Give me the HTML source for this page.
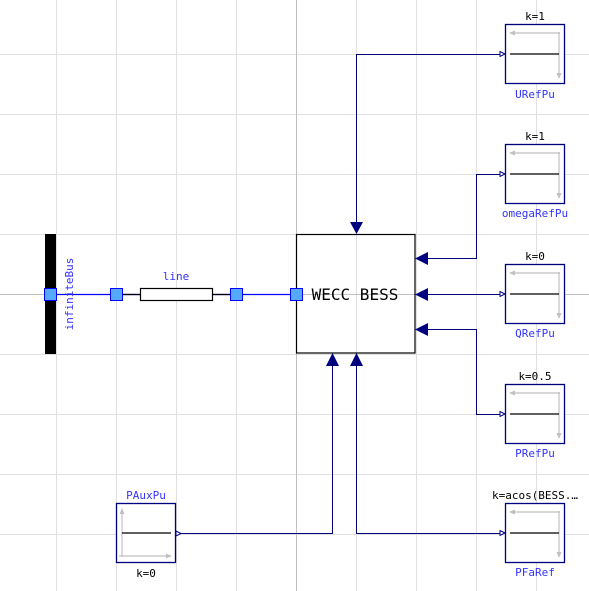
<!DOCTYPE html>
<html><head><style>body{margin:0;background:#fff}svg{display:block}</style></head><body>
<svg width="589" height="591" viewBox="0 0 589 591" xmlns="http://www.w3.org/2000/svg" font-family="'DejaVu Sans Mono','Liberation Mono',monospace">
<defs>
<g id="rb">
 <rect x="505.5" y="0.5" width="59" height="59" fill="#fff" stroke="#00007f" stroke-width="1.3"/>
 <line x1="512" y1="9" x2="560" y2="9" stroke="#c0c0c0" stroke-width="1.2"/>
 <polygon points="509,9 515,6.5 515,11.5" fill="#c0c0c0"/>
 <line x1="559" y1="8" x2="559" y2="51" stroke="#c0c0c0" stroke-width="1.2"/>
 <polygon points="559,55 556.5,49 561.5,49" fill="#c0c0c0"/>
 <line x1="510" y1="30" x2="559" y2="30" stroke="#000" stroke-width="1.2"/>
 <polygon points="505,30 500,27.5 500,32.5" fill="#fff" stroke="#00007f" stroke-width="1"/>
</g>
</defs>
<g stroke="#e0e0e0" stroke-width="1">
 <line x1="56.5" y1="0" x2="56.5" y2="591"/><line x1="116.5" y1="0" x2="116.5" y2="591"/>
 <line x1="176.5" y1="0" x2="176.5" y2="591"/><line x1="236.5" y1="0" x2="236.5" y2="591"/>
 <line x1="356.5" y1="0" x2="356.5" y2="591"/><line x1="416.5" y1="0" x2="416.5" y2="591"/>
 <line x1="476.5" y1="0" x2="476.5" y2="591"/><line x1="536.5" y1="0" x2="536.5" y2="591"/>
 <line x1="0" y1="54.5" x2="589" y2="54.5"/><line x1="0" y1="114.5" x2="589" y2="114.5"/>
 <line x1="0" y1="174.5" x2="589" y2="174.5"/><line x1="0" y1="234.5" x2="589" y2="234.5"/>
 <line x1="0" y1="354.5" x2="589" y2="354.5"/><line x1="0" y1="414.5" x2="589" y2="414.5"/>
 <line x1="0" y1="474.5" x2="589" y2="474.5"/><line x1="0" y1="534.5" x2="589" y2="534.5"/>
</g>
<g stroke="#c0c0c0"><line x1="296.5" y1="0" x2="296.5" y2="591"/><line x1="0" y1="294.5" x2="589" y2="294.5"/></g>

<g fill="none" stroke="#00007f" stroke-width="1">
 <polyline points="500,54.5 356.5,54.5 356.5,224"/>
 <polyline points="500,174.5 476.5,174.5 476.5,258.5 427,258.5"/>
 <polyline points="500,294.5 427,294.5"/>
 <polyline points="500,414.5 476.5,414.5 476.5,329.5 427,329.5"/>
 <polyline points="181,533.5 332.5,533.5 332.5,364"/>
 <polyline points="500,533.5 356.5,533.5 356.5,364"/>
</g>
<g fill="#00007f">
 <polygon points="356.5,234 350,222 363,222"/>
 <polygon points="415,258.5 428,252 428,265"/>
 <polygon points="415,294.5 428,288 428,301"/>
 <polygon points="415,329.5 428,323 428,336"/>
 <polygon points="332.5,353 326,366 339,366"/>
 <polygon points="356.5,353 350,366 363,366"/>
</g>

<rect x="296.5" y="234.5" width="118.5" height="118.5" fill="none" stroke="#000" stroke-width="1.2"/>
<text x="355" y="300" font-size="16" text-anchor="middle" fill="#000">WECC BESS</text>

<line x1="50" y1="294.5" x2="296" y2="294.5" stroke="#0000ff" stroke-width="1.2"/>
<line x1="116" y1="294.5" x2="236" y2="294.5" stroke="#000" stroke-width="1.2"/>
<rect x="45" y="234" width="11" height="120" fill="#000"/>
<rect x="140.5" y="288.5" width="72" height="12" fill="#fff" stroke="#000" stroke-width="1.2"/>
<text x="176" y="280" font-size="11" text-anchor="middle" fill="#3333ff">line</text>
<text transform="translate(73,294) rotate(-90)" font-size="11" text-anchor="middle" fill="#3333ff">infiniteBus</text>
<g fill="#55aaff" stroke="#0000ff" stroke-width="1">
 <rect x="44.5" y="288.5" width="12" height="12"/><rect x="110.5" y="288.5" width="12" height="12"/>
 <rect x="230.5" y="288.5" width="12" height="12"/><rect x="290.5" y="288.5" width="12" height="12"/>
</g>

<g font-size="11" text-anchor="middle">
<use href="#rb" y="24"/><text x="535" y="20" fill="#000">k=1</text><text x="535" y="98" fill="#3333ff">URefPu</text>
<use href="#rb" y="144"/><text x="535" y="140" fill="#000">k=1</text><text x="535" y="217" fill="#3333ff">omegaRefPu</text>
<use href="#rb" y="264"/><text x="535" y="260" fill="#000">k=0</text><text x="535" y="337" fill="#3333ff">QRefPu</text>
<use href="#rb" y="384"/><text x="535" y="380" fill="#000">k=0.5</text><text x="535" y="457" fill="#3333ff">PRefPu</text>
<use href="#rb" y="503"/><text x="535" y="499" fill="#000">k=acos(BESS.…</text><text x="535" y="576" fill="#3333ff">PFaRef</text>

<rect x="116.5" y="503.5" width="59" height="59" fill="#fff" stroke="#00007f" stroke-width="1.3"/>
<line x1="122" y1="512" x2="122" y2="557" stroke="#c0c0c0" stroke-width="1.2"/>
<polygon points="122,508 119.5,514 124.5,514" fill="#c0c0c0"/>
<line x1="119" y1="556" x2="168" y2="556" stroke="#c0c0c0" stroke-width="1.2"/>
<polygon points="172,556 166,553.5 166,558.5" fill="#c0c0c0"/>
<line x1="122" y1="533" x2="171" y2="533" stroke="#000" stroke-width="1.2"/>
<polygon points="181,533.5 176,531 176,536" fill="#fff" stroke="#00007f" stroke-width="1"/>
<text x="146" y="499" fill="#3333ff">PAuxPu</text><text x="146" y="577" fill="#000">k=0</text>
</g>
</svg>
</body></html>
